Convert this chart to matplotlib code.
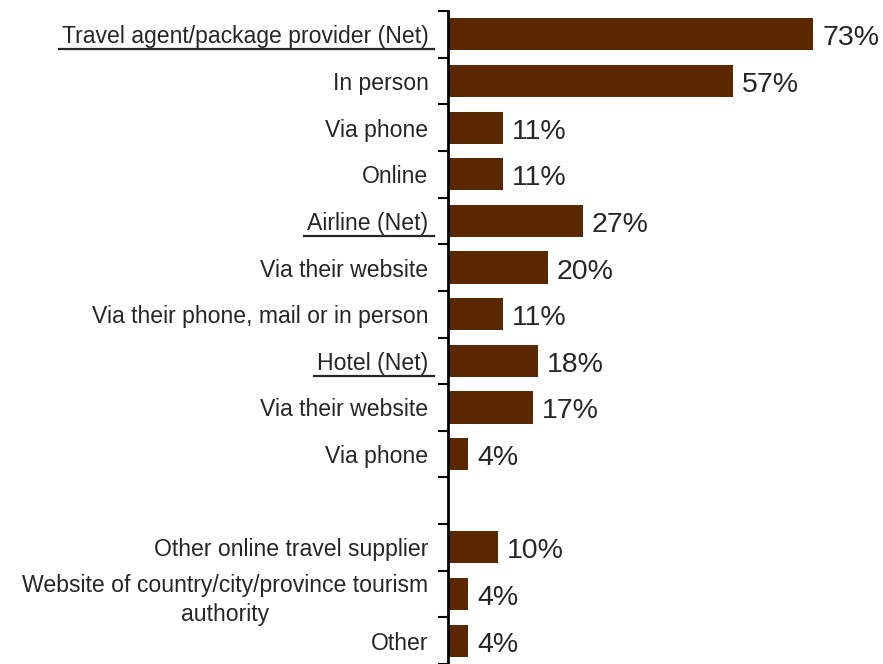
import numpy as np
import matplotlib.pyplot as plt
from matplotlib.lines import Line2D

plt.rcParams['font.family'] = ['Liberation Sans', 'DejaVu Sans']

# data
labels = ["Travel agent/package provider (Net)", "In person", "Via phone", "Online",
          "Airline (Net)", "Via their website", "Via their phone, mail or in person",
          "Hotel (Net)", "Via their website", "Via phone", "",
          "Other online travel supplier",
          "Website of country/city/province tourism\nauthority", "Other"]
values = [73, 57, 11, 11, 27, 20, 11, 18, 17, 4, None, 10, 4, 4]
net_rows = [0, 4, 7]

bar_color = '#5a2700'
txt_color = '#262626'

W, H = 883, 664
fig = plt.figure(figsize=(W / 100, H / 100), dpi=100)
ax = fig.add_axes([448 / W, 0, 435 / W, 1 - 11 / H])

y = np.arange(len(labels))
for yi, v in zip(y, values):
    if v is None:
        continue
    ax.barh(yi, v, height=0.69, color=bar_color)
    ax.annotate(f"{v}%", (v, yi), xytext=(9, -11), textcoords='offset pixels',
                va='baseline', ha='left', fontsize=20.5, color=txt_color)

ax.set_xlim(0, 87)
ax.set_ylim(len(labels) - 0.5, -0.5)

ax.set_yticks(y)
ax.set_yticklabels(labels, fontsize=16.6, color=txt_color,
                   multialignment='center', linespacing=1.35)
ax.tick_params(axis='y', which='major', length=0, pad=14)
ax.set_yticks(np.arange(-0.5, len(labels), 1), minor=True)
ax.tick_params(axis='y', which='minor', length=7, width=1.5, direction='out')
ax.set_xticks([])

for s in ['top', 'right', 'bottom']:
    ax.spines[s].set_visible(False)
ax.spines['left'].set_linewidth(2)

# underline the net labels
fig.canvas.draw()
r = fig.canvas.get_renderer()
tls = ax.get_yticklabels()
for i in net_rows:
    bb = tls[i].get_window_extent(r)
    ly = (bb.y0 - 1) / H
    fig.add_artist(Line2D([(bb.x0 - 3) / W, (bb.x1 + 5) / W], [ly, ly],
                          color=txt_color, lw=1.6))

fig.savefig('out.png', dpi=100)
